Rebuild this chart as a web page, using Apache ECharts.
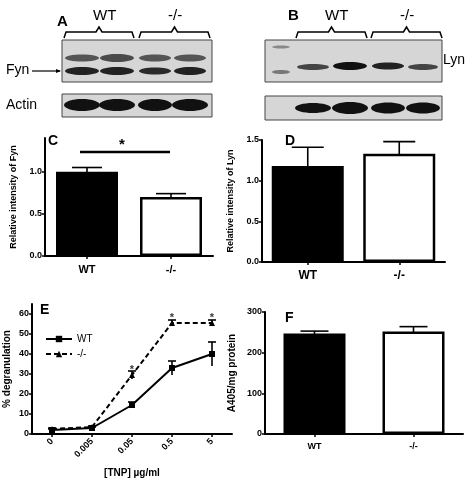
<!DOCTYPE html>
<html><head><meta charset="utf-8">
<script src="https://cdn.jsdelivr.net/npm/echarts@6/dist/echarts.min.js"></script>
<style>html,body{margin:0;padding:0;background:#fff}#c{width:474px;height:483px}</style>
</head><body><div id="c"></div>
<script>
var groups = ['WT', '-/-'];
var fynVals = [1.0, 0.7];
var fynErr = [0.05, 0.04];
var lynVals = [1.18, 1.33];
var lynErr = [0.23, 0.15];
var doses = ['0', '0.005', '0.05', '0.5', '5'];
var wtDeg = [2, 3, 14.5, 33, 40];
var wtDegErr = [0.5, 0.5, 1.5, 3.5, 6];
var koDeg = [2.5, 3.5, 29.5, 55.5, 55.5];
var koDegErr = [0.5, 0.5, 2, 1.5, 1.5];
var koStars = [null, null, 32, 58, 58];
var a405 = [247, 252];
var a405Err = [6, 12];

var font = 'Liberation Sans, Arial, sans-serif';
var chart = echarts.init(document.getElementById('c'));

function errSeries(xi, yi, vals, errs, cap) {
  return {
    type: 'custom', xAxisIndex: xi, yAxisIndex: yi, z: 1,
    data: vals.map(function (v, i) { return [i, v, v + errs[i]]; }),
    renderItem: function (p, api) {
      var b = api.coord([api.value(0), api.value(2)]);
      var lo = api.coord([api.value(0), 2 * api.value(1) - api.value(2)]);
      var st = { stroke: '#000', lineWidth: 1.6 };
      return { type: 'group', children: [
        { type: 'line', shape: { x1: b[0], y1: lo[1], x2: b[0], y2: b[1] }, style: st },
        { type: 'line', shape: { x1: b[0] - cap, y1: b[1], x2: b[0] + cap, y2: b[1] }, style: st }
      ] };
    }
  };
}

function barSeries(xi, yi, vals, w) {
  return {
    type: 'bar', xAxisIndex: xi, yAxisIndex: yi, barWidth: w, z: 3,
    data: vals.map(function (v, i) {
      return { value: v, itemStyle: i === 0 ? { color: '#000', borderColor: '#000', borderWidth: 2 } : { color: '#fff', borderColor: '#000', borderWidth: 2.5 } };
    })
  };
}

function yAx(gi, max, interval, name, fs, gap) {
  return {
    gridIndex: gi, type: 'value', min: 0, max: max, interval: interval,
    name: name, nameLocation: 'middle', nameGap: gap,
    nameTextStyle: { fontFamily: font, fontWeight: 'bold', fontSize: fs, color: '#000' },
    axisLine: { show: true, lineStyle: { color: '#000', width: 2 } },
    axisTick: { show: true, length: 3, lineStyle: { color: '#000', width: 1.5 } },
    axisLabel: { fontFamily: font, fontWeight: 'bold', fontSize: 9, color: '#000', margin: 3, showMaxLabel: max === 1.5 || max === 300,
      formatter: function (v) { return max < 5 ? v.toFixed(1) : v; } },
    splitLine: { show: false }
  };
}

function xAx(gi, data, fs, extra) {
  var o = {
    gridIndex: gi, type: 'category', data: data,
    axisLine: { lineStyle: { color: '#000', width: 2 } },
    axisTick: { show: true, alignWithLabel: true, length: 3, lineStyle: { color: '#000', width: 1.5 } },
    axisLabel: { fontFamily: font, fontWeight: 'bold', fontSize: fs, color: '#000', margin: 8 }
  };
  return Object.assign(o, extra || {});
}

function blotBox(x, y, w, h, bands) {
  var ch = [{ type: 'rect', shape: { x: x, y: y, width: w, height: h }, style: { fill: '#d6d6d6', stroke: '#444', lineWidth: 1 } }];
  bands.forEach(function (b) {
    ch.push({ type: 'ellipse', shape: { cx: b[0], cy: b[1], rx: b[2], ry: b[3] }, style: { fill: b[4] } });
  });
  return ch;
}
function bracket(x1, x2, y) {
  var m = (x1 + x2) / 2;
  return { type: 'polyline', shape: { points: [[x1, y + 6], [x1 + 2, y], [m - 3, y], [m, y - 5], [m + 3, y], [x2 - 2, y], [x2, y + 6]] },
    style: { stroke: '#000', lineWidth: 1.5, fill: null } };
}
function txt(x, y, s, fs, bold) {
  return { type: 'text', x: x, y: y, style: { text: s, font: (bold ? 'bold ' : '') + fs + 'px ' + font, fill: '#000' } };
}

var graphics = [].concat(
  blotBox(62, 40, 150, 42, [
    [82, 58, 17, 3.5, '#555'], [117, 58, 17, 4, '#4a4a4a'], [155, 58, 16, 3.5, '#555'], [190, 58, 16, 3.5, '#555'],
    [82, 71, 17, 4, '#222'], [117, 71, 17, 4, '#222'], [155, 71, 16, 3.5, '#2a2a2a'], [190, 71, 16, 4, '#222']]),
  blotBox(62, 94, 150, 23, [[82, 105, 18, 6, '#111'], [117, 105, 18, 6, '#111'], [155, 105, 17, 6, '#111'], [190, 105, 18, 6, '#111']]),
  blotBox(265, 40, 177, 42, [
    [281, 47, 9, 1.5, '#888'], [281, 72, 9, 2, '#777'],
    [313, 67, 16, 3, '#444'], [350, 66, 17, 4, '#111'], [388, 66, 16, 3.5, '#222'], [423, 67, 15, 3, '#444']]),
  blotBox(265, 96, 177, 24, [[313, 108, 18, 5, '#111'], [350, 108, 18, 6, '#111'], [388, 108, 17, 5.5, '#111'], [423, 108, 17, 5.5, '#111']]),
  [
    bracket(64, 134, 32), bracket(139, 210, 32), bracket(296, 367, 32), bracket(371, 442, 32),
    txt(57, 14, 'A', 15, true), txt(93, 8, 'WT', 15), txt(168, 8, '-/-', 15),
    txt(288, 8, 'B', 15, true), txt(325, 8, 'WT', 15), txt(400, 8, '-/-', 15),
    txt(6, 63, 'Fyn', 14),
    { type: 'line', shape: { x1: 32, y1: 71, x2: 60, y2: 71 }, style: { stroke: '#000', lineWidth: 1.2 } },
    { type: 'polygon', shape: { points: [[61, 71], [56, 69], [56, 73]] }, style: { fill: '#000' } },
    txt(443, 53, 'Lyn', 14), txt(6, 98, 'Actin', 14),
    txt(48, 134, 'C', 14, true), txt(285, 134, 'D', 14, true),
    txt(40, 303, 'E', 14, true), txt(285, 311, 'F', 14, true),
    { type: 'line', shape: { x1: 80, y1: 152, x2: 170, y2: 152 }, style: { stroke: '#000', lineWidth: 2.5 } },
    txt(119, 137, '*', 15, true)
  ]
);

var option = {
  animation: false,
  textStyle: { fontFamily: font },
  grid: [
    { left: 45, top: 138, width: 168, height: 118 },
    { left: 262, top: 140, width: 183, height: 122 },
    { left: 32, top: 304, width: 200, height: 130 },
    { left: 265, top: 312, width: 198, height: 122 }
  ],
  xAxis: [
    xAx(0, groups, 11),
    xAx(1, groups, 12),
    xAx(2, doses, 9, { boundaryGap: true, name: '[TNP] µg/ml', nameLocation: 'middle', nameGap: 34,
      nameTextStyle: { fontFamily: font, fontWeight: 'bold', fontSize: 10, color: '#000' },
      axisLabel: { fontFamily: font, fontWeight: 'bold', fontSize: 9, color: '#000', rotate: 45, margin: 6 } }),
    xAx(3, groups, 9)
  ],
  yAxis: [
    yAx(0, 1.4, 0.5, 'Relative intensity of Fyn', 9, 27),
    yAx(1, 1.5, 0.5, 'Relative intensity of Lyn', 9, 27),
    yAx(2, 65, 10, '% degranulation', 10, 20),
    yAx(3, 300, 100, 'A405/mg protein', 10, 28)
  ],
  legend: {
    orient: 'vertical', left: 40, top: 329, itemGap: 5, itemWidth: 26, itemHeight: 8,
    textStyle: { fontFamily: font, fontSize: 10, color: '#000' },
    data: ['WT', '-/-']
  },
  graphic: graphics,
  series: [
    errSeries(0, 0, fynVals, fynErr, 15), barSeries(0, 0, fynVals, 62),
    errSeries(1, 1, lynVals, lynErr, 16), barSeries(1, 1, lynVals, 72),
    errSeries(3, 3, a405, a405Err, 14), barSeries(3, 3, a405, 62),
    errSeries(2, 2, wtDeg, wtDegErr, 4),
    errSeries(2, 2, koDeg, koDegErr, 4),
    { name: 'WT', type: 'line', xAxisIndex: 2, yAxisIndex: 2, data: wtDeg, symbol: 'rect', symbolSize: 6,
      lineStyle: { color: '#000', width: 2 }, itemStyle: { color: '#000' }, z: 4 },
    { name: '-/-', type: 'line', xAxisIndex: 2, yAxisIndex: 2, data: koDeg, symbol: 'triangle', symbolSize: 6,
      lineStyle: { color: '#000', width: 2, type: [5, 3] }, itemStyle: { color: '#000' }, z: 4 },
    { type: 'scatter', xAxisIndex: 2, yAxisIndex: 2, data: koStars, symbolSize: 0, silent: true,
      label: { show: true, formatter: '*', fontSize: 11, fontWeight: 'bold', color: '#000', position: 'inside' } }
  ]
};
chart.setOption(option);
</script></body></html>
